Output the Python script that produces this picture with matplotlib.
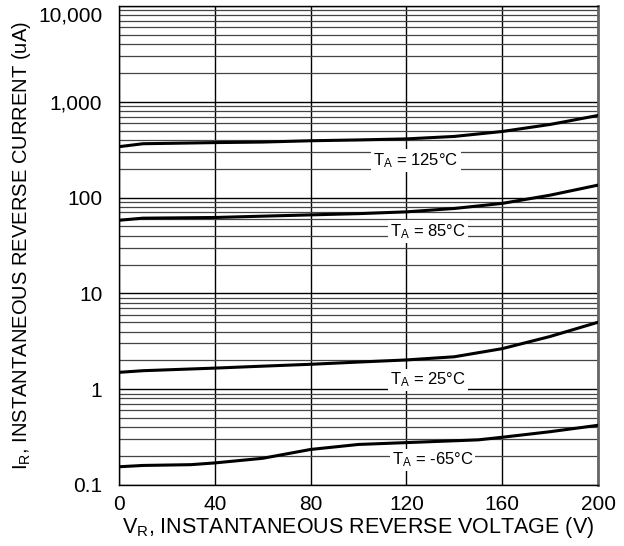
import numpy as np
import matplotlib
matplotlib.use('Agg')
import matplotlib.pyplot as plt
from matplotlib.ticker import NullFormatter, LogLocator
from matplotlib.transforms import ScaledTranslation

plt.rcParams['font.family'] = ['Liberation Sans', 'DejaVu Sans']
plt.rcParams['mathtext.fontset'] = 'custom'
plt.rcParams['mathtext.rm'] = 'Liberation Sans'

# Reverse voltage (V) and reverse current (uA)
v_125 = [0, 10, 40, 60, 80, 100, 120, 140, 160, 180, 200]
i_125 = [340, 365, 375, 380, 392, 400, 410, 435, 490, 580, 720]

v_85 = [0, 10, 40, 60, 80, 100, 120, 140, 160, 180, 200]
i_85 = [58, 61, 62, 64, 66, 68, 71, 77, 87, 106, 135]

v_25 = [0, 10, 40, 60, 80, 100, 120, 140, 160, 180, 200]
i_25 = [1.50, 1.56, 1.66, 1.74, 1.82, 1.92, 2.02, 2.18, 2.65, 3.55, 5.0]

v_m65 = [0, 10, 30, 40, 60, 80, 100, 120, 150, 160, 180, 200]
i_m65 = [0.155, 0.160, 0.163, 0.170, 0.190, 0.235, 0.265, 0.277, 0.296, 0.315, 0.36, 0.42]

labels = ['$\\mathregular{T_A}$ = 125°C', '$\\mathregular{T_A}$ = 85°C',
          '$\\mathregular{T_A}$ = 25°C', '$\\mathregular{T_A}$ = -65°C']
label_x = [124, 129, 129, 131]
label_y = [245, 44, 1.25, 0.182]

x_ticks = [0, 40, 80, 120, 160, 200]
y_ticks = [0.1, 1, 10, 100, 1000, 10000]
y_tick_labels = ['0.1', '1', '10', '100', '1,000', '10,000']

fig = plt.figure(figsize=(6.24, 5.46), dpi=100)
ax = fig.add_axes([119 / 624, 1 - 485 / 546, 479 / 624, 479 / 546])

ax.set_yscale('log')
ax.set_xlim(0, 200)
ax.set_ylim(0.1, 10000)

ax.yaxis.set_minor_locator(LogLocator(base=10, subs=np.arange(2, 10)))
ax.yaxis.set_minor_formatter(NullFormatter())
ax.set_yticks(y_ticks)
ax.set_yticklabels(y_tick_labels)
ax.set_xticks(x_ticks)

ax.grid(True, which='major', axis='both', color='black', linewidth=1.0)
ax.grid(True, which='minor', axis='y', color='#444444', linewidth=0.9)
ax.tick_params(which='both', length=0, labelsize=15)
ax.tick_params(axis='y', pad=12)
ax.tick_params(axis='x', pad=7)

# top label sits a little below its grid line, like the original
top_lbl = ax.get_yticklabels()[-1]
top_lbl.set_transform(top_lbl.get_transform() + ScaledTranslation(0, -0.08, fig.dpi_scale_trans))

for v, i in [(v_125, i_125), (v_85, i_85), (v_25, i_25), (v_m65, i_m65)]:
    ax.plot(v, i, color='black', linewidth=2.2, zorder=3)

for t, lx, ly in zip(labels, label_x, label_y):
    ax.text(lx, ly, t, fontsize=12, ha='center', va='center', zorder=4,
            bbox=dict(facecolor='white', edgecolor='none', pad=1.5))

for s in ax.spines.values():
    s.set_color('black')
    s.set_linewidth(1.0)
ax.spines['right'].set_color('#666666')
ax.spines['right'].set_linewidth(2.0)

ax.set_xlabel('$\\mathregular{V_R}$, INSTANTANEOUS REVERSE VOLTAGE (V)', fontsize=15.5, labelpad=1)
ax.set_ylabel('$\\mathregular{I_R}$, INSTANTANEOUS REVERSE CURRENT (uA)', fontsize=14.5, labelpad=4)

fig.savefig('out.png', dpi=100)
